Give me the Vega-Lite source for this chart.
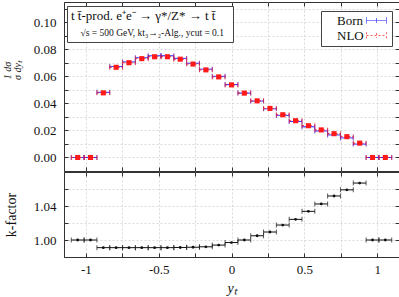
{
  "$schema": "https://vega.github.io/schema/vega-lite/v6.json",
  "autosize": {"type": "pad"},
  "padding": {"left": 1, "top": 1, "right": 1, "bottom": 0},
  "background": "white",
  "spacing": -1,
  "config": {
    "font": "Liberation Serif",
    "view": {"stroke": "#333333", "strokeWidth": 1},
    "axis": {
      "labelFont": "Liberation Serif",
      "labelFontSize": 13,
      "labelColor": "#111111",
      "titleFont": "Liberation Serif",
      "titleFontWeight": "normal",
      "titleColor": "#111111",
      "domainColor": "#333333",
      "tickColor": "#333333",
      "tickSize": -4,
      "gridColor": "#d0d0d0",
      "gridDash": [2, 2],
      "gridWidth": 0.8
    },
    "legend": {
      "labelFont": "Liberation Serif",
      "titleFont": "Liberation Serif"
    }
  },
  "resolve": {
    "scale": {"color": "independent", "strokeDash": "independent", "shape": "independent"},
    "legend": {"color": "independent", "strokeDash": "independent", "shape": "independent"}
  },
  "datasets": {
    "d": [
      {"yt": -1.056, "lo": -1.100, "hi": -1.012, "Born": 0, "NLO": 0, "k": 1.0},
      {"yt": -0.968, "lo": -1.012, "hi": -0.924, "Born": 0, "NLO": 0, "k": 1.0},
      {"yt": -0.880, "lo": -0.924, "hi": -0.836, "Born": 0.0482, "NLO": 0.0478, "k": 0.991},
      {"yt": -0.792, "lo": -0.836, "hi": -0.748, "Born": 0.0673, "NLO": 0.0667, "k": 0.991},
      {"yt": -0.704, "lo": -0.748, "hi": -0.660, "Born": 0.0707, "NLO": 0.0701, "k": 0.991},
      {"yt": -0.616, "lo": -0.660, "hi": -0.572, "Born": 0.0738, "NLO": 0.0731, "k": 0.991},
      {"yt": -0.528, "lo": -0.572, "hi": -0.484, "Born": 0.0752, "NLO": 0.0745, "k": 0.991},
      {"yt": -0.440, "lo": -0.484, "hi": -0.396, "Born": 0.0752, "NLO": 0.0745, "k": 0.991},
      {"yt": -0.352, "lo": -0.396, "hi": -0.308, "Born": 0.0733, "NLO": 0.0727, "k": 0.9912},
      {"yt": -0.264, "lo": -0.308, "hi": -0.220, "Born": 0.0697, "NLO": 0.0691, "k": 0.9915},
      {"yt": -0.176, "lo": -0.220, "hi": -0.132, "Born": 0.0653, "NLO": 0.0648, "k": 0.992},
      {"yt": -0.088, "lo": -0.132, "hi": -0.044, "Born": 0.0600, "NLO": 0.0596, "k": 0.994},
      {"yt": 0.000, "lo": -0.044, "hi": 0.044, "Born": 0.0539, "NLO": 0.0537, "k": 0.997},
      {"yt": 0.088, "lo": 0.044, "hi": 0.132, "Born": 0.0476, "NLO": 0.0476, "k": 1.000},
      {"yt": 0.176, "lo": 0.132, "hi": 0.220, "Born": 0.0417, "NLO": 0.0419, "k": 1.005},
      {"yt": 0.264, "lo": 0.220, "hi": 0.308, "Born": 0.0360, "NLO": 0.0363, "k": 1.0094},
      {"yt": 0.352, "lo": 0.308, "hi": 0.396, "Born": 0.0311, "NLO": 0.0316, "k": 1.0176},
      {"yt": 0.440, "lo": 0.396, "hi": 0.484, "Born": 0.0266, "NLO": 0.0272, "k": 1.0243},
      {"yt": 0.528, "lo": 0.484, "hi": 0.572, "Born": 0.0227, "NLO": 0.0235, "k": 1.0337},
      {"yt": 0.616, "lo": 0.572, "hi": 0.660, "Born": 0.0196, "NLO": 0.0204, "k": 1.0424},
      {"yt": 0.704, "lo": 0.660, "hi": 0.748, "Born": 0.0167, "NLO": 0.0176, "k": 1.0518},
      {"yt": 0.792, "lo": 0.748, "hi": 0.836, "Born": 0.0145, "NLO": 0.0154, "k": 1.059},
      {"yt": 0.880, "lo": 0.836, "hi": 0.924, "Born": 0.0099, "NLO": 0.0106, "k": 1.067},
      {"yt": 0.968, "lo": 0.924, "hi": 1.012, "Born": 0, "NLO": 0, "k": 1.0},
      {"yt": 1.056, "lo": 1.012, "hi": 1.100, "Born": 0, "NLO": 0, "k": 1.0}
    ]
  },
  "vconcat": [
    {
      "width": 335,
      "height": 169,
      "data": {"name": "d"},
      "transform": [{"fold": ["Born", "NLO"], "as": ["series", "val"]}],
      "layer": [
        {
          "mark": {"type": "rule", "strokeWidth": 1},
          "encoding": {
            "x": {"field": "lo", "type": "quantitative",
                  "scale": {"domain": [-1.15, 1.15], "nice": false, "zero": false},
                  "axis": {"orient": "bottom", "labels": false, "title": null, "grid": true,
                           "minExtent": 0, "maxExtent": 0,
                           "values": [-1, -0.75, -0.5, -0.25, 0, 0.25, 0.5, 0.75, 1]}},
            "x2": {"field": "hi"},
            "y": {"field": "val", "type": "quantitative",
                  "scale": {"domain": [-0.01, 0.115], "nice": false, "zero": false},
                  "axis": {"orient": "left", "grid": true,
                           "values": [0, 0.01, 0.02, 0.03, 0.04, 0.05, 0.06, 0.07, 0.08, 0.09, 0.1, 0.11],
                           "labelExpr": "round(datum.value*100) % 2 == 0 ? format(datum.value, '.2f') : ''",
                           "labelPadding": 12, "minExtent": 42, "maxExtent": 42, "titlePadding": 0,
                           "title": ["1    dσ", "σ   dyₜ"], "titleFontSize": 10, "titleFontStyle": "italic",
                           "titleLineHeight": 10, "titleY": 68}},
            "color": {"field": "series", "type": "nominal",
                      "scale": {"domain": ["Born", "NLO"], "range": ["#1a1aff", "#ff1a1a"]},
                      "legend": {"orient": "none", "legendX": 257, "legendY": 9, "title": null,
                                 "strokeColor": "#444444", "fillColor": "white", "padding": 3,
                                 "labelFontSize": 13, "labelColor": "#111111", "rowPadding": 1,
                                 "symbolSize": 64, "labelOffset": 0, "symbolStrokeWidth": 1,
                                 "symbolType": "M9,0H14M9,-0.8V0.8M14,-0.8V0.8M11.5,-0.6V0.6"}},
            "strokeDash": {"field": "series", "type": "nominal",
                           "scale": {"domain": ["Born", "NLO"], "range": [[1, 0], [2, 2]]},
                           "legend": {"orient": "none", "legendX": 257, "legendY": 9, "title": null,
                                      "strokeColor": "#444444", "fillColor": "white", "padding": 3,
                                      "labelFontSize": 13, "labelColor": "#111111", "rowPadding": 1,
                                      "symbolSize": 64, "labelOffset": 0, "symbolStrokeWidth": 1,
                                      "symbolType": "M9,0H14M9,-0.8V0.8M14,-0.8V0.8M11.5,-0.6V0.6"}}
          }
        },
        {
          "mark": {"type": "tick", "orient": "vertical", "size": 5, "thickness": 1},
          "encoding": {
            "x": {"field": "lo", "type": "quantitative", "axis": null},
            "y": {"field": "val", "type": "quantitative", "axis": null},
            "color": {"field": "series", "type": "nominal"}
          }
        },
        {
          "mark": {"type": "tick", "orient": "vertical", "size": 5, "thickness": 1},
          "encoding": {
            "x": {"field": "hi", "type": "quantitative", "axis": null},
            "y": {"field": "val", "type": "quantitative", "axis": null},
            "color": {"field": "series", "type": "nominal"}
          }
        },
        {
          "transform": [{"filter": "datum.series == 'NLO'"}],
          "mark": {"type": "point", "filled": true, "size": 26, "color": "#ff1a1a", "opacity": 1},
          "encoding": {
            "x": {"field": "yt", "type": "quantitative", "axis": null},
            "y": {"field": "val", "type": "quantitative", "axis": null},
            "shape": {"datum": "√s = 500 GeV,  kt₃→₂-Alg.,  ycut = 0.1",
                      "scale": {"range": ["square"]},
                      "legend": {"orient": "none", "legendX": 3, "legendY": 4,
                                 "title": "t t̄-prod.  e⁺e⁻ → γ*/Z* → t t̄",
                                 "titleFontSize": 13, "titleFontWeight": "normal", "titleColor": "#111111",
                                 "titlePadding": 5,
                                 "labelFontSize": 9.5, "labelColor": "#111111",
                                 "symbolSize": 0, "symbolOpacity": 0, "labelOffset": 0,
                                 "strokeColor": "#444444", "fillColor": "white", "padding": 4}}
          }
        },
        {
          "mark": {"type": "point", "opacity": 0},
          "encoding": {
            "x": {"field": "yt", "type": "quantitative",
                  "axis": {"orient": "top", "labels": false, "title": null, "grid": false, "domain": false,
                           "minExtent": 0, "maxExtent": 0,
                           "values": [-1, -0.75, -0.5, -0.25, 0, 0.25, 0.5, 0.75, 1]}},
            "y": {"field": "val", "type": "quantitative",
                  "axis": {"orient": "right", "labels": false, "title": null, "grid": false, "domain": false,
                           "minExtent": 0, "maxExtent": 0,
                           "values": [0, 0.01, 0.02, 0.03, 0.04, 0.05, 0.06, 0.07, 0.08, 0.09, 0.1, 0.11]}}
          }
        }
      ],
      "resolve": {"axis": {"x": "independent", "y": "independent"}}
    },
    {
      "width": 335,
      "height": 85,
      "data": {"name": "d"},
      "layer": [
        {
          "mark": {"type": "rule", "strokeWidth": 1, "color": "#111111"},
          "encoding": {
            "x": {"field": "lo", "type": "quantitative",
                  "scale": {"domain": [-1.15, 1.15], "nice": false, "zero": false},
                  "axis": {"orient": "bottom", "grid": true, "title": "yₜ", "titleFontSize": 14,
                           "titleFontStyle": "italic", "labelPadding": 10, "titlePadding": 5,
                           "values": [-1, -0.75, -0.5, -0.25, 0, 0.25, 0.5, 0.75, 1],
                           "labelExpr": "datum.value == -1 ? '-1' : datum.value == -0.5 ? '-0.5' : datum.value == 0 ? '0' : datum.value == 0.5 ? '0.5' : datum.value == 1 ? '1' : ''"}},
            "x2": {"field": "hi"},
            "y": {"field": "k", "type": "quantitative",
                  "scale": {"domain": [0.98, 1.08], "nice": false, "zero": false},
                  "axis": {"orient": "left", "grid": true, "values": [1.0, 1.02, 1.04, 1.06],
                           "labelExpr": "datum.value == 1 ? '1.00' : datum.value == 1.04 ? '1.04' : ''",
                           "labelPadding": 12, "minExtent": 42, "maxExtent": 42, "titlePadding": 4,
                           "title": "k-factor", "titleFontSize": 14}}
          }
        },
        {
          "mark": {"type": "tick", "orient": "vertical", "size": 5, "thickness": 1, "color": "#111111"},
          "encoding": {
            "x": {"field": "lo", "type": "quantitative", "axis": null},
            "y": {"field": "k", "type": "quantitative", "axis": null}
          }
        },
        {
          "mark": {"type": "tick", "orient": "vertical", "size": 5, "thickness": 1, "color": "#111111"},
          "encoding": {
            "x": {"field": "hi", "type": "quantitative", "axis": null},
            "y": {"field": "k", "type": "quantitative", "axis": null}
          }
        },
        {
          "mark": {"type": "point", "shape": "circle", "filled": true, "size": 8, "color": "#111111", "opacity": 1},
          "encoding": {
            "x": {"field": "yt", "type": "quantitative", "axis": null},
            "y": {"field": "k", "type": "quantitative", "axis": null}
          }
        },
        {
          "mark": {"type": "point", "opacity": 0},
          "encoding": {
            "x": {"field": "yt", "type": "quantitative",
                  "axis": {"orient": "top", "labels": false, "title": null, "grid": false, "domain": false,
                           "minExtent": 0, "maxExtent": 0,
                           "values": [-1, -0.75, -0.5, -0.25, 0, 0.25, 0.5, 0.75, 1]}},
            "y": {"field": "k", "type": "quantitative",
                  "axis": {"orient": "right", "labels": false, "title": null, "grid": false, "domain": false,
                           "minExtent": 0, "maxExtent": 0,
                           "values": [1.0, 1.02, 1.04, 1.06]}}
          }
        }
      ],
      "resolve": {"axis": {"x": "independent", "y": "independent"}}
    }
  ]
}
